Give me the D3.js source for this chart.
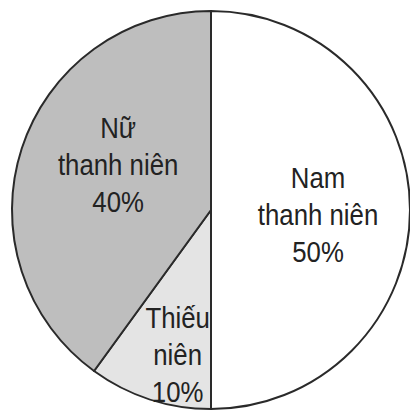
<!DOCTYPE html>
<html>
<head>
<meta charset="utf-8">
<script src="https://cdn.jsdelivr.net/npm/d3@7"></script>
<style>
	html, body { margin: 0; padding: 0; background: #fff; }
	#chart { width: 410px; height: 412px; }
</style>
</head>
<body>
<div id="chart"></div>
<script>
// slices, clockwise from 12 o'clock
const groups = ["Nam thanh niên", "Thiếu niên", "Nữ thanh niên"];
const shares = [50, 10, 40];
const labelLines = [["Nam", "thanh niên", "50%"], ["Thiếu", "niên", "10%"], ["Nữ", "thanh niên", "40%"]];
const fills = ["#ffffff", "#e4e4e4", "#bebebe"];

// label placement (layout only)
const labelRadius = [107, 150, 105];
const labelNudge = [[0, 5], [13, 2], [7, -13]];

const width = 410;
const height = 412;
const cx = 211, cy = 210, radius = 199;

const svg = d3.select("#chart")
	.append("svg")
		.attr("width", width)
		.attr("height", height)
	.append("g")
		.attr("transform", `translate(${cx}, ${cy})`);

const pie = d3.pie()
	.sort(null)
	.value(function(d){ return d; });

const arcs = pie(shares);

const arc = d3.arc()
	.innerRadius(0)
	.outerRadius(radius);

svg.selectAll(".slice")
	.data(arcs)
	.join("path")
		.attr("class", "slice")
		.attr("d", arc)
		.style("fill", function(d, i){ return fills[i]; })
		.style("stroke", "#2a2a2a")
		.style("stroke-width", 2)
		.style("stroke-linejoin", "round");

// Labels
const labels = svg.selectAll(".label")
	.data(arcs)
	.join("text")
		.attr("class", "label")
		.attr("text-anchor", "middle")
		.style("font-family", "'Liberation Sans', Arial, sans-serif")
		.style("font-size", "30px")
		.style("fill", "#222")
		.attr("transform", function(d, i){
			const c = d3.arc().innerRadius(labelRadius[i]).outerRadius(labelRadius[i]).centroid(d);
			return `translate(${c[0] + labelNudge[i][0]}, ${c[1] + labelNudge[i][1]}) scale(0.86, 1)`;
		});

labels.selectAll("tspan")
	.data(function(d, i){ return labelLines[i]; })
	.join("tspan")
		.attr("x", 0)
		.attr("y", function(d, j){ return (j - 1) * 37 + 10; })
		.text(function(d){ return d; });
</script>
</body>
</html>
